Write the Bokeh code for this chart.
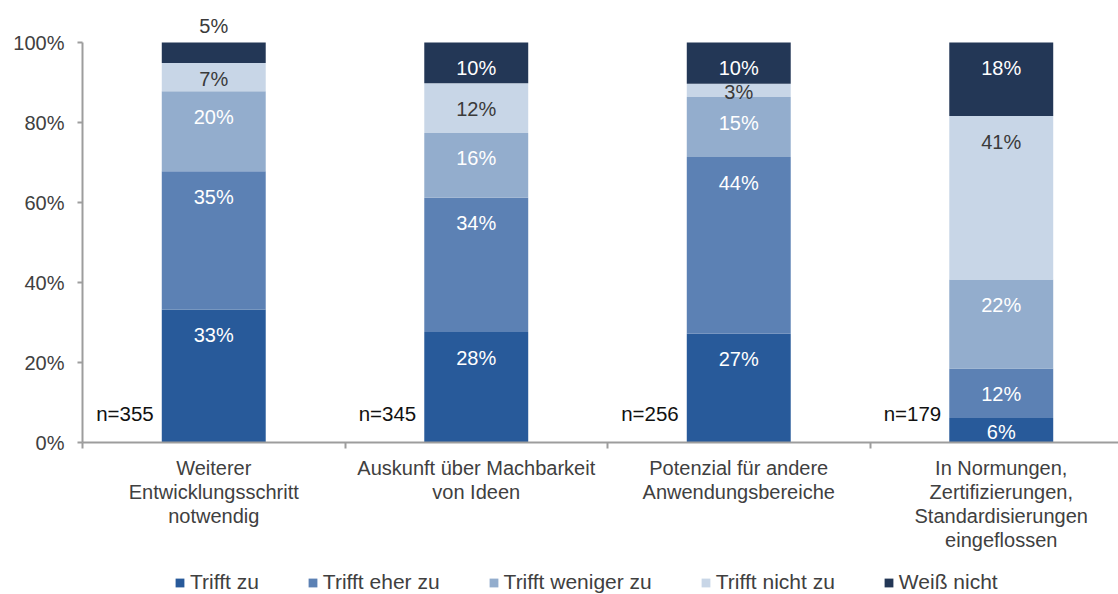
from bokeh.plotting import figure
from bokeh.layouts import column
from bokeh.models import ColumnDataSource, Range1d, FixedTicker, Legend, LegendItem
from bokeh.core.properties import value
from bokeh.embed import file_html
from bokeh.resources import INLINE

# ---------------- data ----------------
categories = [
    "Weiterer\nEntwicklungsschritt\nnotwendig",
    "Auskunft über Machbarkeit\nvon Ideen",
    "Potenzial für andere\nAnwendungsbereiche",
    "In Normungen,\nZertifizierungen,\nStandardisierungen\neingeflossen",
]
n_values = [355, 345, 256, 179]
series_names = ["Trifft zu", "Trifft eher zu", "Trifft weniger zu", "Trifft nicht zu", "Weiß nicht"]
trifft_zu = [33.25, 27.6, 27.2, 6.1]
trifft_eher_zu = [34.55, 33.6, 44.15, 12.4]
trifft_weniger_zu = [20.0, 16.2, 15.0, 22.25]
trifft_nicht_zu = [7.1, 12.4, 3.35, 40.85]
weiss_nicht = [5.1, 10.2, 10.3, 18.4]
y_ticks = [0, 20, 40, 60, 80, 100]

# ---------------- style ----------------
FONT = "Liberation Sans"
FS = "20px"
colors = ["#285A9A", "#5C81B4", "#93ADCD", "#C8D6E7", "#233756"]
label_colors = ["white", "white", "white", "#3A3A3A", "white"]
AXIS_COLOR = "#9D9D9D"
TEXT_COLOR = "#404040"

W, H = 1118, 594
LEG_H = 28
H1 = H - LEG_H
LEFT = 82
FRAME_BOTTOM = 442
FRAME_W = W - LEFT
CAT_W = 262.5
PX = 4.0  # px per percent
Y_TOP = FRAME_BOTTOM / PX  # range extends above 100% for the outside label
BAR_W = 0.396

series = [trifft_zu, trifft_eher_zu, trifft_weniger_zu, trifft_nicht_zu, weiss_nicht]
keys = ["s0", "s1", "s2", "s3", "s4"]
xs = [i + 0.5 for i in range(len(categories))]

data = dict(x=xs)
for k, s in zip(keys, series):
    data[k] = s
src = ColumnDataSource(data)

p = figure(width=W, height=H1,
           x_range=Range1d(0, FRAME_W / CAT_W), y_range=Range1d(0, Y_TOP),
           output_backend="svg", toolbar_location=None,
           min_border_left=LEFT, min_border_right=0, min_border_top=0,
           min_border_bottom=H1 - FRAME_BOTTOM)
p.outline_line_color = None
p.xgrid.visible = False
p.ygrid.visible = False

rends = p.vbar_stack(keys, x="x", width=BAR_W, fill_color=colors, line_color=None, source=src)

# segment labels
lx, ly, lt, lc = [], [], [], []
for i, xc in enumerate(xs):
    bottom = 0.0
    for j, s in enumerate(series):
        seg = s[i]
        top = bottom + seg
        txt = f"{round(seg)}%"
        color = label_colors[j]
        if j == len(series) - 1 and seg < 6:
            yy = top + 17 / PX
            color = "#3A3A3A"
        elif seg >= 9:
            yy = top - 25.4 / PX
        else:
            yy = top - seg / 2 - 1.8 / PX
        lx.append(xc); ly.append(yy); lt.append(txt); lc.append(color)
        bottom = top

lab_src = ColumnDataSource(dict(x=lx, y=ly, text=lt, color=lc))
p.text(x="x", y="y", text="text", text_color="color", source=lab_src,
       text_align="center", text_baseline="middle",
       text_font=value(FONT), text_font_size=FS)

# n labels
n_src = ColumnDataSource(dict(x=[xc - BAR_W / 2 for xc in xs], y=[7.2] * len(xs),
                              text=[f"n={n}" for n in n_values]))
p.text(x="x", y="y", text="text", source=n_src, x_offset=-8,
       text_align="right", text_baseline="middle",
       text_font=value(FONT), text_font_size="20.5px", text_color="#111111")

# x axis
xa = p.xaxis[0]
xa.ticker = FixedTicker(ticks=xs, minor_ticks=[float(i) for i in range(len(categories))])
xa.major_label_overrides = {xc: c for xc, c in zip(xs, categories)}
xa.major_tick_out = 0
xa.major_tick_in = 0
xa.minor_tick_out = 6
xa.minor_tick_in = 0
xa.minor_tick_line_color = AXIS_COLOR
xa.minor_tick_line_width = 2
xa.axis_line_color = AXIS_COLOR
xa.axis_line_width = 2
xa.major_label_standoff = 8
xa.major_label_text_font = FONT
xa.major_label_text_font_size = FS
xa.major_label_text_color = TEXT_COLOR
xa.major_label_text_line_height = 1.1

# y axis
ya = p.yaxis[0]
ya.bounds = (0, 100)
ya.ticker = FixedTicker(ticks=y_ticks, minor_ticks=[])
ya.major_label_overrides = {t: f"{t}%" for t in y_ticks}
ya.major_tick_out = 5
ya.major_tick_in = 0
ya.major_tick_line_color = AXIS_COLOR
ya.major_tick_line_width = 2
ya.minor_tick_out = 0
ya.minor_tick_in = 0
ya.axis_line_color = AXIS_COLOR
ya.axis_line_width = 2
ya.major_label_standoff = 13
ya.major_label_text_font = FONT
ya.major_label_text_font_size = FS
ya.major_label_text_color = TEXT_COLOR

# legend strip (separate figure below the chart; frames are aligned by the column)
pl = figure(width=W, height=LEG_H, x_range=Range1d(0, FRAME_W / CAT_W), y_range=Range1d(0, 1),
            x_axis_type=None, y_axis_type=None,
            output_backend="svg", toolbar_location=None,
            min_border_left=0, min_border_right=0, min_border_top=0, min_border_bottom=0)
pl.outline_line_color = None
pl.xgrid.visible = False
pl.ygrid.visible = False
leg_rends = pl.vbar_stack(keys, x="x", width=BAR_W, fill_color=colors, line_color=None,
                          source=src, visible=False)
items = [LegendItem(label=name, renderers=[r]) for name, r in zip(series_names, leg_rends)]
legend = Legend(items=items, orientation="horizontal", location=(92, 0),
                glyph_width=11, glyph_height=11, label_standoff=5, spacing=48,
                padding=0, margin=0, border_line_color=None, background_fill_alpha=0,
                label_text_font=FONT, label_text_font_size="21px", label_text_color=TEXT_COLOR,
                label_height=20)
pl.add_layout(legend)

layout = column(p, pl, spacing=0)
open("out.html", "w").write(file_html(layout, INLINE))
